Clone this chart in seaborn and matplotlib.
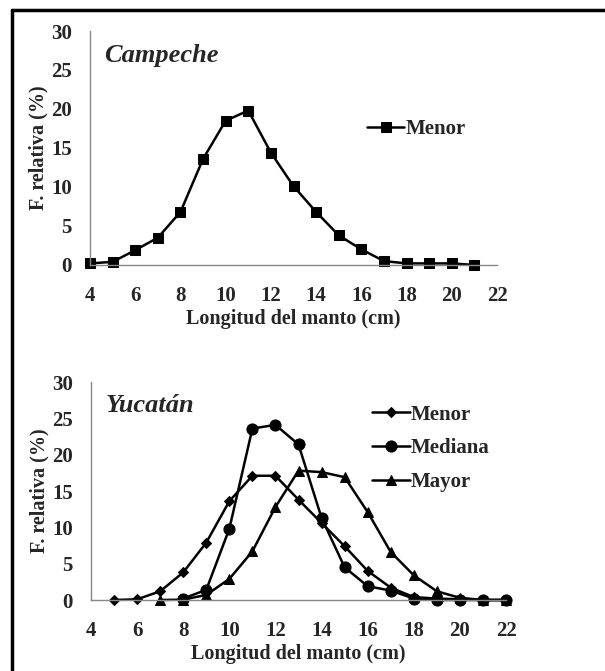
import pandas as pd
import matplotlib.pyplot as plt
import seaborn as sns
from matplotlib.lines import Line2D

# Campeche (x = 4..21)
camp_x = list(range(4, 22))
camp_menor = [0.2, 0.4, 1.9, 3.5, 6.8, 13.6, 18.5, 19.8, 14.4, 10.1,
              6.8, 3.8, 2.0, 0.5, 0.2, 0.2, 0.2, 0.0]

# Yucatan
yuc_menor_x = list(range(5, 23))
yuc_menor = [0.0, 0.1, 1.2, 3.8, 7.9, 13.6, 17.1, 17.1, 13.8, 10.6,
             7.4, 4.0, 1.7, 0.4, 0.2, 0.1, 0.0, 0.0]
yuc_mediana_x = list(range(8, 23))
yuc_mediana = [0.2, 1.4, 9.8, 23.6, 24.1, 21.4, 11.3, 4.5, 1.9, 1.3,
               0.2, 0.0, 0.0, 0.0, 0.0]
yuc_mayor_x = list(range(7, 23))
yuc_mayor = [0.0, 0.05, 0.7, 2.9, 6.7, 12.8, 17.8, 17.6, 16.9, 12.1,
             6.6, 3.4, 1.2, 0.3, 0.0, 0.0]

sns.set_style("white")
plt.rcParams['font.family'] = ['Liberation Serif', 'DejaVu Serif']
plt.rcParams['font.weight'] = 'bold'

fig = plt.figure(figsize=(6.05, 6.71), dpi=100)
ax1 = fig.add_axes([0.1488, 0.6051, 0.6727, 0.3487])
ax2 = fig.add_axes([0.1504, 0.1058, 0.686, 0.3249])

def style_axis(ax, title, ty):
    ax.set_xlim(4, 22)
    ax.set_ylim(0, 30)
    ax.set_xticks(range(4, 23, 2))
    ax.set_yticks(range(0, 31, 5))
    ax.set_xticks(range(4, 23, 1), minor=True)
    for s in ['top', 'right']:
        ax.spines[s].set_visible(False)
    for s in ['left', 'bottom']:
        ax.spines[s].set_color('#888888')
        ax.spines[s].set_linewidth(1.0)
    ax.tick_params(axis='both', which='both', direction='out', color='#888888',
                   length=5, width=1, labelsize=15, pad=8)
    ax.tick_params(axis='x', which='major', pad=10)
    for lab in ax.get_xticklabels() + ax.get_yticklabels():
        lab.set_fontweight('bold')
    ax.set_xlabel('Longitud del manto (cm)', fontsize=14.5, fontweight='bold', labelpad=2)
    ax.set_ylabel('F. relativa (%)', fontsize=14.5, fontweight='bold', labelpad=2)
    ax.text(0.035, ty, title, transform=ax.transAxes, fontsize=19,
            fontweight='bold', fontstyle='italic', va='center', ha='left')
    for ln in ax.get_lines():
        ln.set_clip_on(False)

lw = 1.8
sns.lineplot(x=camp_x, y=camp_menor, ax=ax1, color='black', linewidth=lw,
             marker='s', markersize=7, markeredgecolor='black', label='Menor')
style_axis(ax1, 'Campeche', 0.895)
ax1.legend(loc='upper left', bbox_to_anchor=(0.66, 0.66), frameon=False,
           prop={'weight': 'bold', 'size': 15}, handlelength=1.8,
           handletextpad=0.05, borderaxespad=0)

sns.lineplot(x=yuc_menor_x, y=yuc_menor, ax=ax2, color='black', linewidth=lw,
             marker='D', markersize=5, markeredgecolor='black', label='Menor')
sns.lineplot(x=yuc_mediana_x, y=yuc_mediana, ax=ax2, color='black', linewidth=lw,
             marker='o', markersize=8, markeredgecolor='black', label='Mediana')
sns.lineplot(x=yuc_mayor_x, y=yuc_mayor, ax=ax2, color='black', linewidth=lw,
             marker='^', markersize=7.5, markeredgecolor='black', label='Mayor')
style_axis(ax2, 'Yucatán', 0.89)
ax2.legend(loc='upper left', bbox_to_anchor=(0.657, 0.935), frameon=False,
           prop={'weight': 'bold', 'size': 15}, handlelength=1.8,
           handletextpad=0.05, borderaxespad=0, labelspacing=0.66)

# outer frame (top and left edges visible)
fig.add_artist(Line2D([12 / 605, 12 / 605], [0, 1 - 10 / 671],
                      transform=fig.transFigure, color='black', linewidth=2.5))
fig.add_artist(Line2D([12 / 605, 1], [1 - 10 / 671, 1 - 10 / 671],
                      transform=fig.transFigure, color='black', linewidth=2.5))

fig.savefig('out.png', dpi=100)
